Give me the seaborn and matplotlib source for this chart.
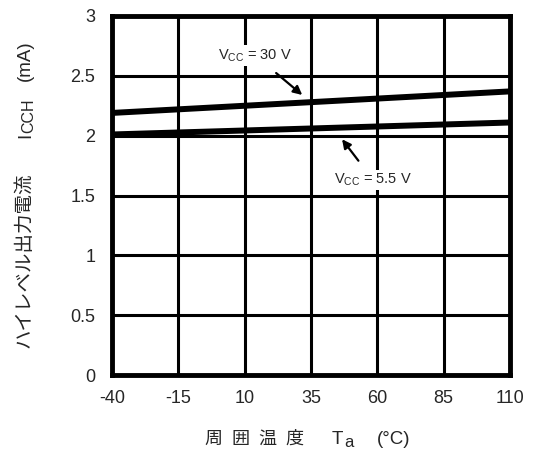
import numpy as np
import pandas as pd
import matplotlib
matplotlib.use('Agg')
import matplotlib.pyplot as plt
from matplotlib.transforms import IdentityTransform
import seaborn as sns

sns.set_style('white')
plt.rcParams['font.family'] = ['Liberation Sans', 'Noto Sans CJK JP']
plt.rcParams['axes.unicode_minus'] = False
plt.rcParams['mathtext.fontset'] = 'custom'
plt.rcParams['mathtext.rm'] = 'Liberation Sans'
plt.rcParams['mathtext.it'] = 'Liberation Sans'

# 데이터
temp = [-40, 110]
icch_30v = [2.19, 2.37]
icch_5v = [2.01, 2.11]
x_ticks = [-40, -15, 10, 35, 60, 85, 110]
y_ticks = [0, 0.5, 1, 1.5, 2, 2.5, 3]
y_labels = ['0', '0.5', '1', '1.5', '2', '2.5', '3']

df = pd.DataFrame({
    'Ta': temp + temp,
    'Icch': icch_30v + icch_5v,
    'Vcc': ['30V'] * 2 + ['5.5V'] * 2,
})

W, H = 533, 453
fig = plt.figure(figsize=(W / 100, H / 100), dpi=100)
ax = fig.add_axes([112 / W, 1 - 375 / H, 398 / W, 359 / H])

sns.lineplot(data=df, x='Ta', y='Icch', units='Vcc', estimator=None,
             color='black', linewidth=4.3, ax=ax, legend=False)

ax.set_xlim(-40, 110)
ax.set_ylim(0, 3)
ax.set_xticks(x_ticks)
ax.set_yticks(y_ticks)
ax.set_yticklabels(y_labels)
ax.set_xlabel('')
ax.set_ylabel('')
ax.grid(True, color='black', linewidth=2.2)
for s in ax.spines.values():
    s.set_linewidth(3.5)
    s.set_color('black')
ax.tick_params(axis='both', length=0, labelsize=13)
ax.tick_params(axis='x', pad=11)
ax.tick_params(axis='y', pad=12)

# 축 레이블 (픽셀 좌표로 조각별 배치)
ident = IdentityTransform()

# x 레이블: 周 囲 温 度  Ta  (°C)
by = H - 444
for ch, x in zip('周囲温度', [204, 231, 258, 285]):
    fig.text(x, by, ch, fontsize=13, transform=ident, ha='left', va='baseline')
fig.text(332, by, 'T', fontsize=13.5, transform=ident, ha='left', va='baseline')
fig.text(344, by - 3, 'a', fontsize=12, transform=ident, ha='left', va='baseline')
fig.text(377, by, '(°C)', fontsize=13.5, transform=ident, ha='left', va='baseline')

# y 레이블: ハイレベル出力電流  ICCH  (mA)
bx = 30
fig.text(bx, H - 348, 'ハイレベル出力電流', fontsize=14, transform=ident,
         rotation=90, rotation_mode='anchor', ha='left', va='baseline')
fig.text(bx, H - 138, 'I', fontsize=13.5, transform=ident,
         rotation=90, rotation_mode='anchor', ha='left', va='baseline')
fig.text(bx + 3, H - 133, 'CCH', fontsize=11.5, transform=ident,
         rotation=90, rotation_mode='anchor', ha='left', va='baseline')
fig.text(bx, H - 81, '(mA)', fontsize=13.5, transform=ident,
         rotation=90, rotation_mode='anchor', ha='left', va='baseline')

ax.annotate('V$_\\mathrm{CC}$ = 30 V', xy=(31.7, 2.34), xytext=(14, 2.67),
            ha='center', va='center', fontsize=10.5,
            arrowprops=dict(arrowstyle='-|>', color='black', lw=1.6, mutation_scale=13,
                            shrinkA=8, shrinkB=0),
            bbox=dict(boxstyle='square,pad=0.15', fc='white', ec='none'))
ax.annotate('V$_\\mathrm{CC}$ = 5.5 V', xy=(46.7, 1.97), xytext=(58.4, 1.63),
            ha='center', va='center', fontsize=10.5,
            arrowprops=dict(arrowstyle='-|>', color='black', lw=1.6, mutation_scale=13,
                            shrinkA=8, shrinkB=0),
            bbox=dict(boxstyle='square,pad=0.15', fc='white', ec='none'))

fig.savefig('out.png', dpi=100)
